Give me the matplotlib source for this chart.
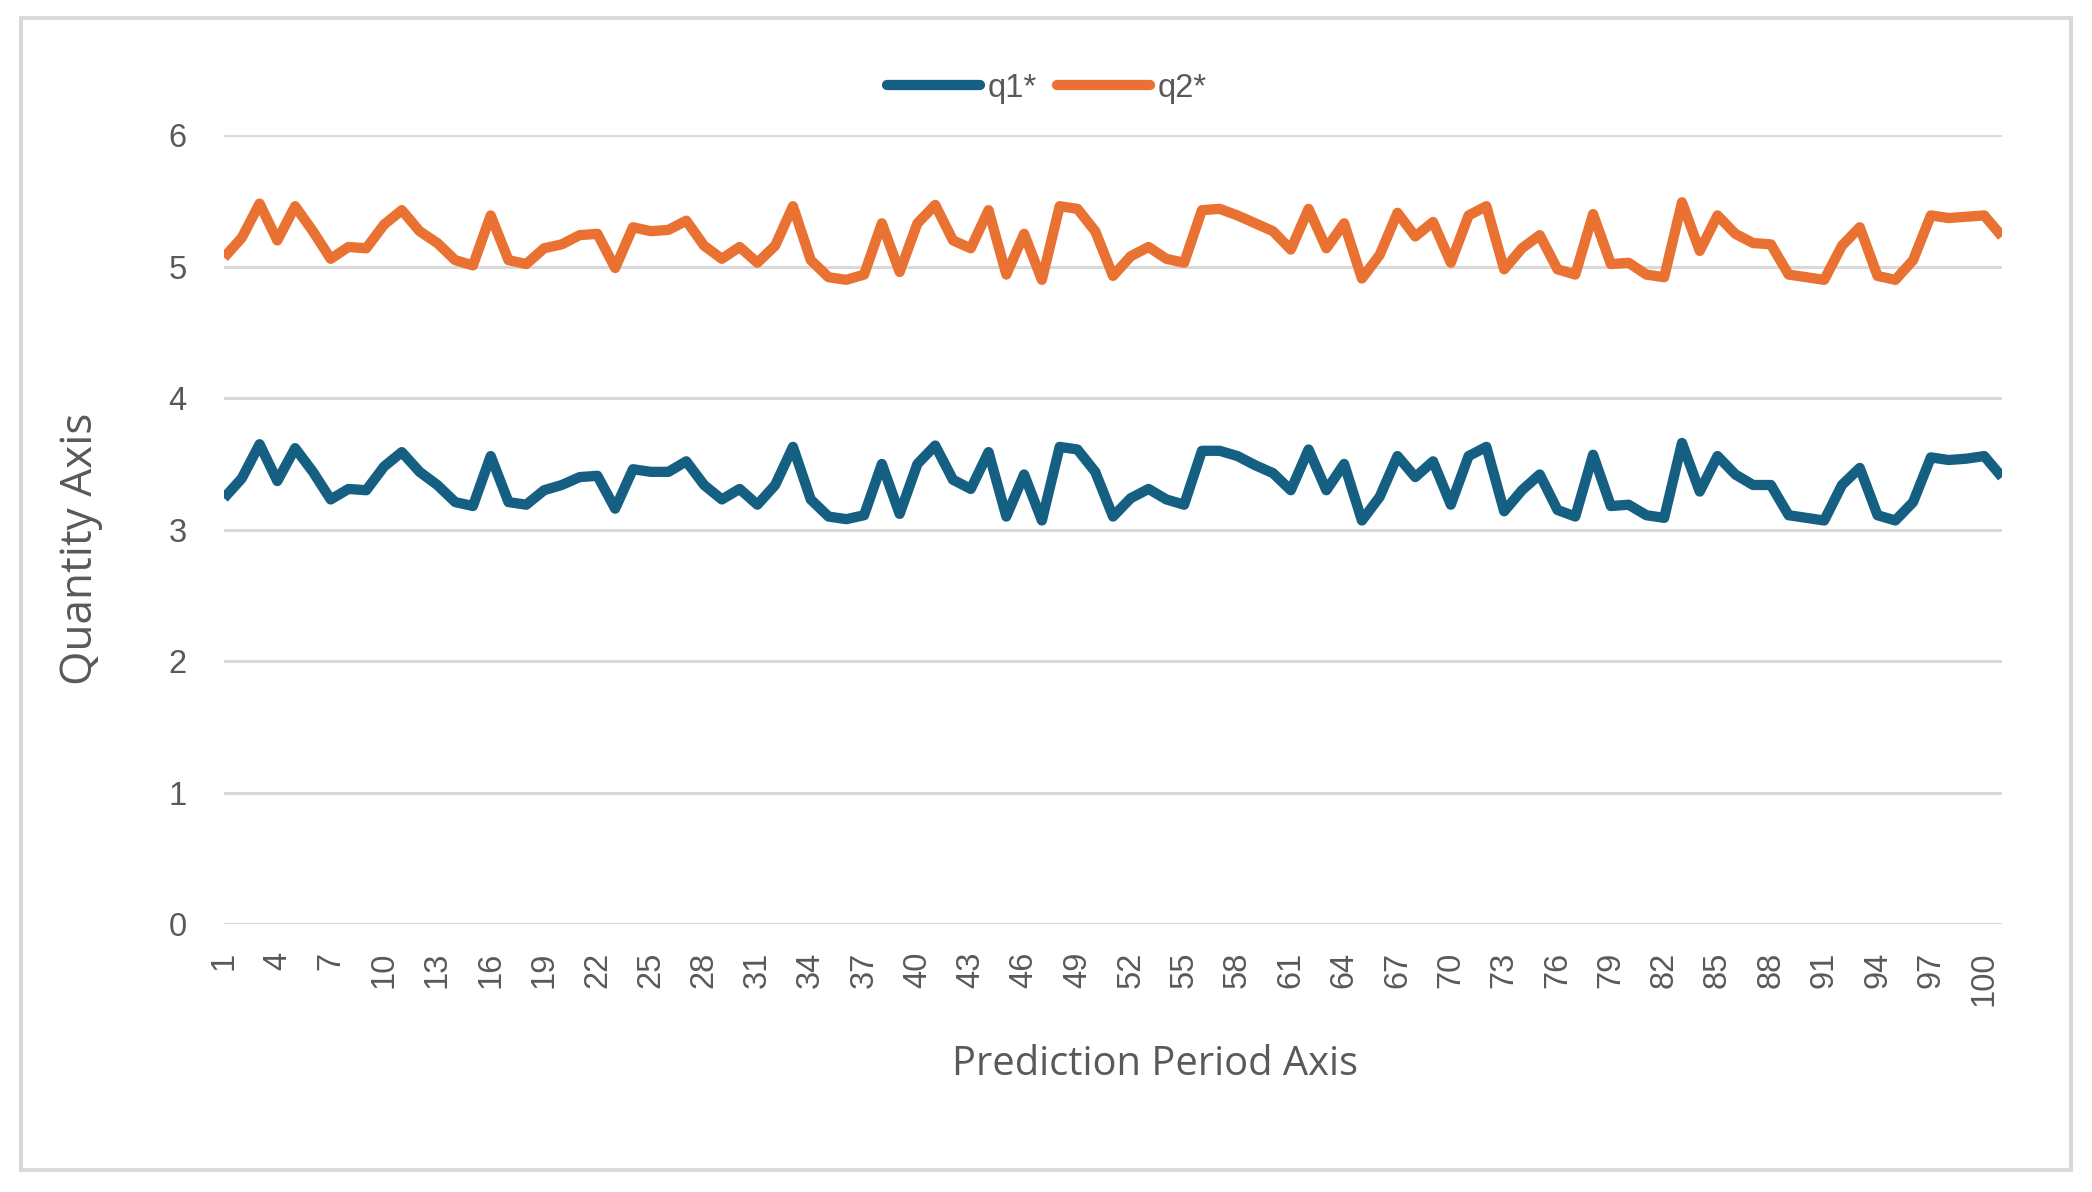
import matplotlib
matplotlib.use("Agg")
import matplotlib.pyplot as plt
from matplotlib.patches import Rectangle

periods = list(range(1, 102))
q1 = [3.24, 3.39, 3.65, 3.37, 3.62, 3.44, 3.23, 3.31, 3.30, 3.48,
      3.59, 3.44, 3.34, 3.21, 3.18, 3.56, 3.21, 3.19, 3.30, 3.34,
      3.40, 3.41, 3.16, 3.46, 3.44, 3.44, 3.52, 3.34, 3.23, 3.31,
      3.19, 3.34, 3.63, 3.23, 3.10, 3.08, 3.11, 3.50, 3.12, 3.50,
      3.64, 3.38, 3.31, 3.59, 3.10, 3.42, 3.07, 3.63, 3.61, 3.44,
      3.10, 3.24, 3.31, 3.23, 3.19, 3.60, 3.60, 3.56, 3.49, 3.43,
      3.30, 3.61, 3.30, 3.50, 3.07, 3.25, 3.56, 3.40, 3.52, 3.19,
      3.56, 3.63, 3.14, 3.30, 3.42, 3.15, 3.10, 3.57, 3.18, 3.19,
      3.11, 3.09, 3.66, 3.29, 3.56, 3.42, 3.34, 3.34, 3.11, 3.09,
      3.07, 3.34, 3.47, 3.11, 3.07, 3.21, 3.55, 3.53, 3.54, 3.56,
      3.40]
q2 = [5.07, 5.22, 5.48, 5.20, 5.46, 5.27, 5.06, 5.15, 5.14, 5.32,
      5.43, 5.27, 5.18, 5.05, 5.01, 5.39, 5.05, 5.02, 5.14, 5.17,
      5.24, 5.25, 4.99, 5.30, 5.27, 5.28, 5.35, 5.16, 5.06, 5.15,
      5.03, 5.16, 5.46, 5.05, 4.92, 4.90, 4.94, 5.33, 4.96, 5.33,
      5.47, 5.20, 5.14, 5.43, 4.94, 5.25, 4.90, 5.46, 5.44, 5.27,
      4.93, 5.08, 5.15, 5.06, 5.03, 5.43, 5.44, 5.39, 5.33, 5.27,
      5.13, 5.44, 5.14, 5.33, 4.91, 5.09, 5.41, 5.23, 5.34, 5.03,
      5.39, 5.46, 4.98, 5.14, 5.24, 4.98, 4.94, 5.40, 5.02, 5.03,
      4.94, 4.92, 5.49, 5.12, 5.39, 5.25, 5.18, 5.17, 4.94, 4.92,
      4.90, 5.16, 5.30, 4.93, 4.90, 5.05, 5.39, 5.37, 5.38, 5.39,
      5.23]
series_names = ["q1*", "q2*"]
y_ticks = [0, 1, 2, 3, 4, 5, 6]
x_tick_labels = list(range(1, 102, 3))
x_title = "Prediction Period Axis"
y_title = "Quantity Axis"

W, H = 2092, 1192
DPI = 100
plt.rcParams['font.family'] = ['Liberation Sans', 'DejaVu Sans']
TEXT = '#595959'
GRID = '#d9d9d9'
BLUE = '#156082'
ORANGE = '#E97132'

fig = plt.figure(figsize=(W / DPI, H / DPI), dpi=DPI)
fig.patch.set_facecolor('white')

# chart border
fig.patches.append(Rectangle((21 / W, 1 - 1170 / H), (2071 - 21) / W, (1170 - 18) / H,
                             transform=fig.transFigure, fill=False,
                             edgecolor=GRID, linewidth=2.9))

left, right = 224, 2002
top, bottom = 135.2, 924.2
ax = fig.add_axes([left / W, 1 - bottom / H, (right - left) / W, (bottom - top) / H])

ax.plot(periods, q1, color=BLUE, linewidth=7.4, solid_joinstyle='round',
        solid_capstyle='butt', label=series_names[0], zorder=3)
ax.plot(periods, q2, color=ORANGE, linewidth=7.4, solid_joinstyle='round',
        solid_capstyle='butt', label=series_names[1], zorder=3)

ax.set_xlim(1, 101)
ax.set_ylim(0, 6)
ax.set_yticks(y_ticks)
ax.set_xticks(x_tick_labels)
ax.set_xticklabels([str(v) for v in x_tick_labels], rotation=90)
for s in ax.spines.values():
    s.set_visible(False)
ax.grid(axis='y', color=GRID, linewidth=2.2, zorder=0)
ax.set_axisbelow(True)
ax.tick_params(axis='both', length=0, colors=TEXT, labelsize=23.5)
ax.tick_params(axis='y', pad=27)
ax.tick_params(axis='x', pad=20)

title_font = ['Open Sans', 'Liberation Sans', 'DejaVu Sans']
xt = fig.text(1154.5 / W, 1 - 1075 / H, x_title, ha='center', va='baseline',
              fontsize=28, color=TEXT, family=title_font)
yt = fig.text(91.7 / W, 1 - 549 / H, y_title, ha='center', va='baseline',
              rotation=90, rotation_mode='anchor', fontsize=28, color=TEXT,
              family=title_font)

# fit title lengths to the reference extents
renderer = fig.canvas.get_renderer()
w = xt.get_window_extent(renderer).width
xt.set_fontsize(28 * 405 / w)
h = yt.get_window_extent(renderer).height
yt.set_fontsize(28 * 272 / h)

leg = fig.legend(loc='center', bbox_to_anchor=(1047 / W, 1 - 88 / H), ncol=2,
                 frameon=False, fontsize=23.5, handlelength=2.85,
                 handletextpad=0.25, columnspacing=0.6, borderpad=0)
for t in leg.get_texts():
    t.set_color(TEXT)
for hl in leg.get_lines():
    hl.set_solid_capstyle('round')

fig.savefig('out.png', dpi=DPI)
